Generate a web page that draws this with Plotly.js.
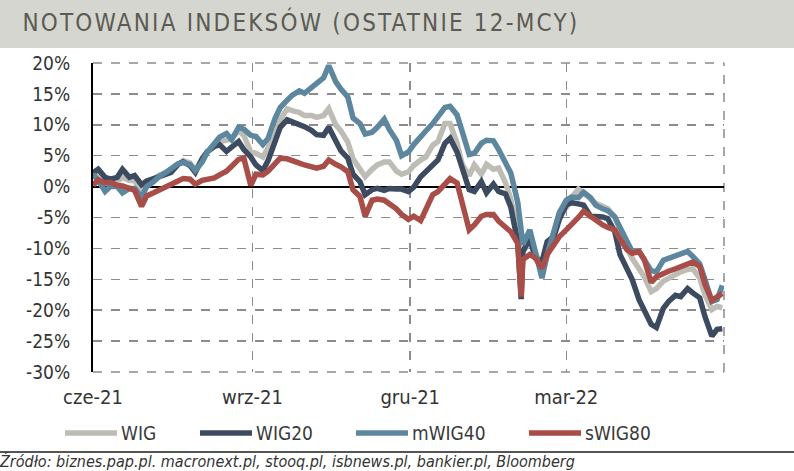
<!DOCTYPE html>
<html>
<head>
<meta charset="utf-8">
<script src="https://cdn.plot.ly/plotly-3.0.1.min.js"></script>
<style>
  html, body { margin: 0; padding: 0; background: #ffffff; }
  #chart { width: 794px; height: 471px; }
</style>
</head>
<body>
<div id="chart"></div>
<script>
// ---- Data (% change vs. start) ----
const dates = [
  "2021-06-22","2021-06-25","2021-06-29","2021-07-02","2021-07-06","2021-07-09","2021-07-13","2021-07-16",
  "2021-07-20","2021-07-23","2021-07-27","2021-07-30","2021-08-03","2021-08-06","2021-08-10","2021-08-13",
  "2021-08-17","2021-08-20","2021-08-24","2021-08-27","2021-08-31","2021-09-03","2021-09-07","2021-09-10",
  "2021-09-14","2021-09-17","2021-09-21","2021-09-24","2021-09-28","2021-10-01","2021-10-05","2021-10-08",
  "2021-10-12","2021-10-15","2021-10-19","2021-10-22","2021-10-26","2021-10-29","2021-11-02","2021-11-05",
  "2021-11-09","2021-11-12","2021-11-16","2021-11-19","2021-11-23","2021-11-26","2021-11-30","2021-12-03",
  "2021-12-07","2021-12-10","2021-12-14","2021-12-17","2021-12-21","2021-12-24","2021-12-28","2021-12-31",
  "2022-01-04","2022-01-07","2022-01-11","2022-01-14","2022-01-18","2022-01-21","2022-01-25","2022-01-28",
  "2022-02-01","2022-02-04","2022-02-08","2022-02-11","2022-02-15","2022-02-18","2022-02-22","2022-02-24",
  "2022-02-25","2022-03-01","2022-03-04","2022-03-08","2022-03-11","2022-03-15","2022-03-18","2022-03-22",
  "2022-03-25","2022-03-29","2022-04-01","2022-04-05","2022-04-08","2022-04-12","2022-04-15","2022-04-19",
  "2022-04-22","2022-04-26","2022-04-29","2022-05-03","2022-05-06","2022-05-10","2022-05-13","2022-05-17",
  "2022-05-20","2022-05-24","2022-05-27","2022-05-31","2022-06-03","2022-06-07","2022-06-10","2022-06-14",
  "2022-06-17","2022-06-20"
];

const wig = [
  1.5, 2.0, 0.5, 0.7, 0.8, 1.5, 1.0, 1.0, -1.0, 0.6, 1.0, 1.8, 2.2, 2.5, 3.5, 4.2,
  3.8, 2.6, 4.5, 5.6, 6.5, 7.3, 7.5, 7.8, 9.0, 8.3, 5.6, 5.4, 4.8, 6.2, 8.3, 10.8,
  12.6, 12.3, 12.0, 11.5, 11.5, 11.2, 11.5, 12.6, 10.0, 9.0, 7.2, 4.5, 3.0, 1.6, 2.8, 3.5,
  4.0, 4.0, 2.5, 2.0, 2.4, 3.4, 4.3, 4.8, 6.7, 7.3, 10.2, 10.2, 7.0, 3.6, 1.8, 3.5,
  2.0, 3.6, 2.8, 3.0, 0.6, -2.0, -7.3, -11.6, -10.5, -9.0, -10.5, -14.0, -11.0, -7.5, -4.6, -3.4,
  -1.8, -0.4, -1.2, -2.0, -2.7, -3.3, -3.6, -4.9, -7.1, -10.0, -11.6, -13.3, -14.6, -17.0, -16.5, -15.3,
  -14.8, -14.2, -13.8, -13.4, -13.3, -14.8, -17.5, -19.9, -19.4, -19.6
];

const wig20 = [
  2.2, 2.8, 1.5, 1.2, 1.5, 2.8, 1.5, 1.8, 0.3, 0.9, 1.3, 1.6, 2.0, 2.3, 3.6, 4.0,
  3.4, 2.3, 4.5, 5.7, 6.5, 6.8, 5.7, 6.3, 7.3, 6.0, 4.8, 3.5, 2.6, 4.2, 7.0, 9.6,
  10.8, 10.5, 9.9, 9.7, 9.1, 8.4, 8.3, 9.6, 7.4, 5.8, 4.6, 2.0, 0.8, -1.3, -0.5, -0.3,
  -0.6, -0.3, -0.4, -0.4, -0.8, -0.1, 1.6, 2.5, 3.6, 4.3, 7.0, 7.8, 5.6, 3.0, -0.5, -0.8,
  0.8, -1.0, 0.4, -0.8, -1.2, -3.3, -8.9, -18.2, -10.5, -8.3, -11.5, -12.1, -8.9, -8.0, -5.3, -3.0,
  -2.6, -2.8, -3.0, -4.8, -4.8, -4.9, -5.2, -7.3, -11.0, -13.5, -15.0, -18.3, -20.0, -22.3, -22.8, -19.7,
  -18.6, -17.6, -17.8, -16.5, -17.2, -18.0, -21.0, -24.2, -23.1, -23.0
];

const mwig40 = [
  2.0, 1.0, -0.8, 0.0, 0.0, -1.0, -0.3, -0.3, -1.7, 0.0, 0.8, 1.6, 2.3, 2.9, 3.7, 3.9,
  3.6, 2.6, 4.0, 5.6, 7.0, 8.0, 8.6, 7.6, 9.6, 9.3, 8.3, 8.1, 6.8, 7.8, 11.0, 12.8,
  14.0, 14.8, 15.5, 15.1, 16.0, 16.7, 17.6, 19.6, 17.0, 15.8, 14.5, 11.1, 10.2, 8.5, 8.8, 9.6,
  10.9, 9.2, 7.5, 5.0, 5.6, 6.8, 8.2, 9.0, 10.2, 11.3, 12.8, 13.0, 11.6, 8.9, 5.2, 5.4,
  7.0, 7.5, 7.4, 6.0, 3.7, 2.2, -2.5, -7.5, -9.4, -7.0, -10.0, -14.8, -11.0, -7.5, -4.2, -2.2,
  -1.7, -1.8, -0.9, -1.8, -3.0, -3.6, -3.9, -4.9, -6.5, -9.0, -10.5, -10.5, -12.0, -13.6, -13.8, -11.9,
  -11.6, -11.2, -11.0, -10.5, -11.3, -12.5, -15.0, -18.6, -18.3, -16.0
];

const swig80 = [
  0.2, 1.1, 0.6, 0.7, 0.2, 0.1, -0.3, -0.6, -3.2, -1.5, -1.0, -0.6, -0.1, 0.4, 0.9, 1.3,
  1.2, 0.4, 1.0, 1.1, 1.4, 1.9, 2.5, 3.3, 4.4, 4.6, 0.2, 2.0, 1.9, 2.5, 3.8, 4.6,
  4.5, 4.1, 3.8, 3.5, 3.2, 3.0, 3.3, 4.3, 3.6, 3.2, 2.4, -0.5, -1.6, -4.8, -2.2, -2.0,
  -2.2, -2.7, -3.6, -4.5, -5.3, -4.8, -5.5, -3.7, -1.3, -0.8, 0.4, 1.3, 0.6, -3.0, -7.0, -6.2,
  -4.8, -4.5, -4.5, -5.6, -6.7, -7.3, -9.2, -17.8, -11.8, -11.0, -11.5, -13.2, -11.0, -9.5, -8.1, -7.0,
  -6.2, -5.0, -4.0, -4.8, -5.5, -6.2, -6.6, -7.0, -8.5, -10.2, -10.8, -10.5, -11.8, -15.5, -14.6, -14.0,
  -13.7, -13.3, -13.0, -12.5, -12.2, -12.9, -15.8, -18.4, -17.8, -17.3
];

const seriesNames = ["WIG", "WIG20", "mWIG40", "sWIG80"];
const seriesColors = ["#bdbdb5", "#3d4b60", "#5d879f", "#a84d47"];
const yTickVals = [-30, -25, -20, -15, -10, -5, 0, 5, 10, 15, 20];
const yTickText = ["-30%", "-25%", "-20%", "-15%", "-10%", "-5%", "0%", "5%", "10%", "15%", "20%"];
const xTickVals = ["2021-06-22", "2021-09-22", "2021-12-22", "2022-03-22"];
const xTickText = ["cze-21", "wrz-21", "gru-21", "mar-22"];
const titleText = "NOTOWANIA INDEKSÓW (OSTATNIE 12-MCY)";
const sourceText = "Źródło: biznes.pap.pl. macronext.pl, stooq.pl, isbnews.pl, bankier.pl, Bloomberg";

// ---- Layout helpers (pixel -> paper) ----
const L = 93, R = 70, T = 63, B = 99, W = 794, H = 471;
const PW = W - L - R, PH = H - T - B;
const px = v => (v - L) / PW;
const py = v => (H - B - v) / PH;

const FONT = "DejaVu Sans Condensed, Liberation Sans Narrow, sans-serif";
const allSeries = [wig, wig20, mwig40, swig80];

const traces = allSeries.map((vals, i) => ({
  type: "scatter",
  mode: "lines",
  name: seriesNames[i],
  x: dates,
  y: vals,
  line: { color: seriesColors[i], width: 5.5 },
  hoverinfo: "skip",
  showlegend: false
}));

const shapes = [
  // title banner
  { type: "rect", xref: "paper", yref: "paper", x0: px(0), x1: px(W), y0: py(48), y1: py(0),
    fillcolor: "#d6d6d0", line: { width: 0 }, layer: "below" },
  // frame: top, right, bottom dashed
  { type: "line", xref: "paper", yref: "paper", x0: 0, x1: 1, y0: 1, y1: 1,
    line: { color: "#8c8c8c", width: 1.5, dash: "dash" }, layer: "below" },
  { type: "line", xref: "paper", yref: "paper", x0: 1, x1: 1, y0: 0, y1: 1,
    line: { color: "#8c8c8c", width: 1.5, dash: "dash" }, layer: "below" },
  { type: "line", xref: "paper", yref: "paper", x0: 0, x1: 1, y0: 0, y1: 0,
    line: { color: "#8c8c8c", width: 1.5, dash: "dash" }, layer: "below" },
  // footer rule
  { type: "line", xref: "paper", yref: "paper", x0: px(0), x1: px(W), y0: py(452), y1: py(452),
    line: { color: "#555555", width: 2 } }
];

const annotations = [
  { text: titleText, xref: "paper", yref: "paper", x: px(301), y: py(22), xanchor: "center", yanchor: "middle",
    showarrow: false, font: { family: FONT, size: 24, color: "#5b5b53" } },
  { text: "<i>" + sourceText + "</i>", xref: "paper", yref: "paper", x: px(-3), y: py(462),
    xanchor: "left", yanchor: "middle", showarrow: false,
    font: { family: FONT, size: 16, color: "#333333" } }
];

// legend (manual, to match the reference spacing)
const legendSampleX = [65, 200, 356, 529];
const legendY = 433;
seriesNames.forEach((n, i) => {
  shapes.push({ type: "line", xref: "paper", yref: "paper",
    x0: px(legendSampleX[i]), x1: px(legendSampleX[i] + 52), y0: py(legendY), y1: py(legendY),
    line: { color: seriesColors[i], width: 5.5 } });
  annotations.push({ text: n, xref: "paper", yref: "paper", x: px(legendSampleX[i] + 54), y: py(legendY),
    xanchor: "left", yanchor: "middle", showarrow: false,
    font: { family: FONT, size: 19, color: "#3a3a3a" } });
});

const layout = {
  width: W, height: H,
  margin: { l: L, r: R, t: T, b: B, pad: 0 },
  paper_bgcolor: "#ffffff",
  plot_bgcolor: "#ffffff",
  showlegend: false,
  xaxis: {
    type: "date",
    range: ["2021-06-22", "2022-06-21"],
    tickmode: "array",
    tickvals: xTickVals,
    ticktext: xTickText,
    showgrid: true,
    gridcolor: "#8c8c8c",
    gridwidth: 1.5,
    griddash: "dash",
    showline: false,
    zeroline: false,
    ticks: "",
    ticklabelstandoff: 11,
    tickfont: { family: FONT, size: 20, color: "#333333" },
    fixedrange: true
  },
  yaxis: {
    range: [-30, 20],
    tickmode: "array",
    tickvals: yTickVals,
    ticktext: yTickText,
    showgrid: true,
    gridcolor: "#8c8c8c",
    gridwidth: 1.5,
    griddash: "dash",
    showline: true,
    linecolor: "#000000",
    linewidth: 2,
    zeroline: true,
    zerolinecolor: "#000000",
    zerolinewidth: 2,
    ticks: "",
    ticklabelstandoff: 17,
    tickfont: { family: FONT, size: 19, color: "#333333" },
    fixedrange: true
  },
  shapes: shapes,
  annotations: annotations
};

Plotly.newPlot("chart", traces, layout, { displayModeBar: false, staticPlot: true }).then(() => {
  // slight letter spacing on the banner title, as in the reference
  const t = document.querySelectorAll(".annotation-text")[0];
  if (t) t.style.letterSpacing = "2.2px";
});
</script>
</body>
</html>
